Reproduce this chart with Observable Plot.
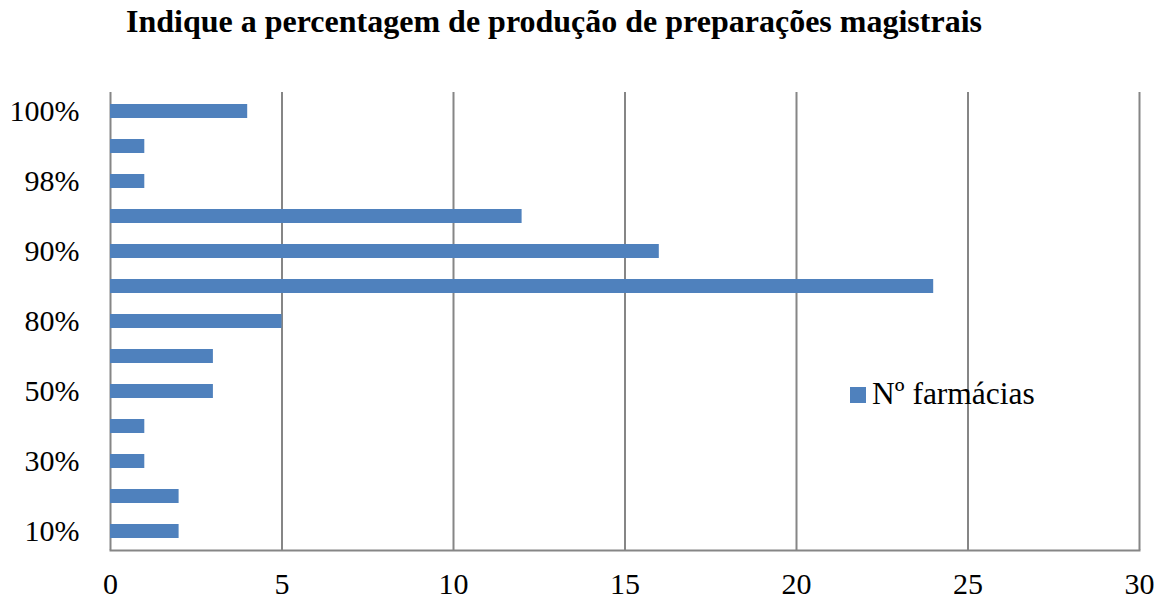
<!DOCTYPE html>
<html>
<head>
<meta charset="utf-8">
<script src="https://cdn.jsdelivr.net/npm/d3@7"></script>
<script src="https://cdn.jsdelivr.net/npm/@observablehq/plot@0.6"></script>
<style>
  body { margin: 0; background: #fff; font-family: "Liberation Serif", "Times New Roman", serif; }
  #wrap { position: relative; width: 1162px; height: 603px; }
  #title { position: absolute; left: 0; top: 3px; width: 1108px; text-align: center; font-weight: bold; font-size: 32px; color: #000; }
  #legend { position: absolute; left: 850px; top: 376px; font-size: 31.5px; color: #000; display: flex; align-items: center; white-space: nowrap; }
  #legend .sw { width: 16px; height: 16px; background: #4F81BD; margin-right: 6px; margin-top: 2px; }
  #chart { position: absolute; left: 0; top: 0; }
  #chart svg text { font-family: "Liberation Serif", "Times New Roman", serif; }
</style>
</head>
<body>
<div id="wrap">
  <div id="chart"></div>
  <div id="title">Indique a percentagem de produção de preparações magistrais</div>
  <div id="legend"><span class="sw"></span><span>Nº farmácias</span></div>
</div>
<script>
const categories = ["10%", "20%", "30%", "40%", "50%", "70%", "80%", "85%", "90%", "95%", "98%", "99%", "100%"];
const values =     [2,     2,     1,     1,     3,     3,     5,     24,    16,    12,    1,     1,     4];
const shownLabels = ["10%", "30%", "50%", "80%", "90%", "98%", "100%"];
const xTicks = [0, 5, 10, 15, 20, 25, 30];
const seriesName = "Nº farmácias";

const data = categories.map((c, i) => ({category: c, value: values[i], series: seriesName}));

const serif = "Liberation Serif, Times New Roman, serif";
const chart = Plot.plot({
  width: 1162,
  height: 603,
  marginLeft: 110,
  marginRight: 23,
  marginTop: 92,
  marginBottom: 53,
  style: {fontFamily: serif, fontSize: "30px", color: "#000", background: "transparent"},
  x: {domain: [0, 30], ticks: xTicks},
  y: {domain: categories.slice().reverse(), paddingInner: 0.6, paddingOuter: 0.3},
  marks: [
    Plot.ruleX(xTicks, {stroke: "#868686", strokeWidth: 2}),
    Plot.frame({anchor: "bottom", stroke: "#868686", strokeWidth: 2}),
    Plot.barX(data, {x: "value", y: "category", fill: "#4F81BD"}),
    Plot.axisX({ticks: xTicks, tickSize: 0, tickPadding: 22, label: null, fontSize: 30, fontFamily: serif, fill: "#000"}),
    Plot.axisY({tickSize: 0, tickPadding: 31, label: null, fontSize: 30, fontFamily: serif, fill: "#000",
      tickFormat: d => shownLabels.includes(d) ? d : ""})
  ]
});
document.getElementById("chart").appendChild(chart);
</script>
</body>
</html>
